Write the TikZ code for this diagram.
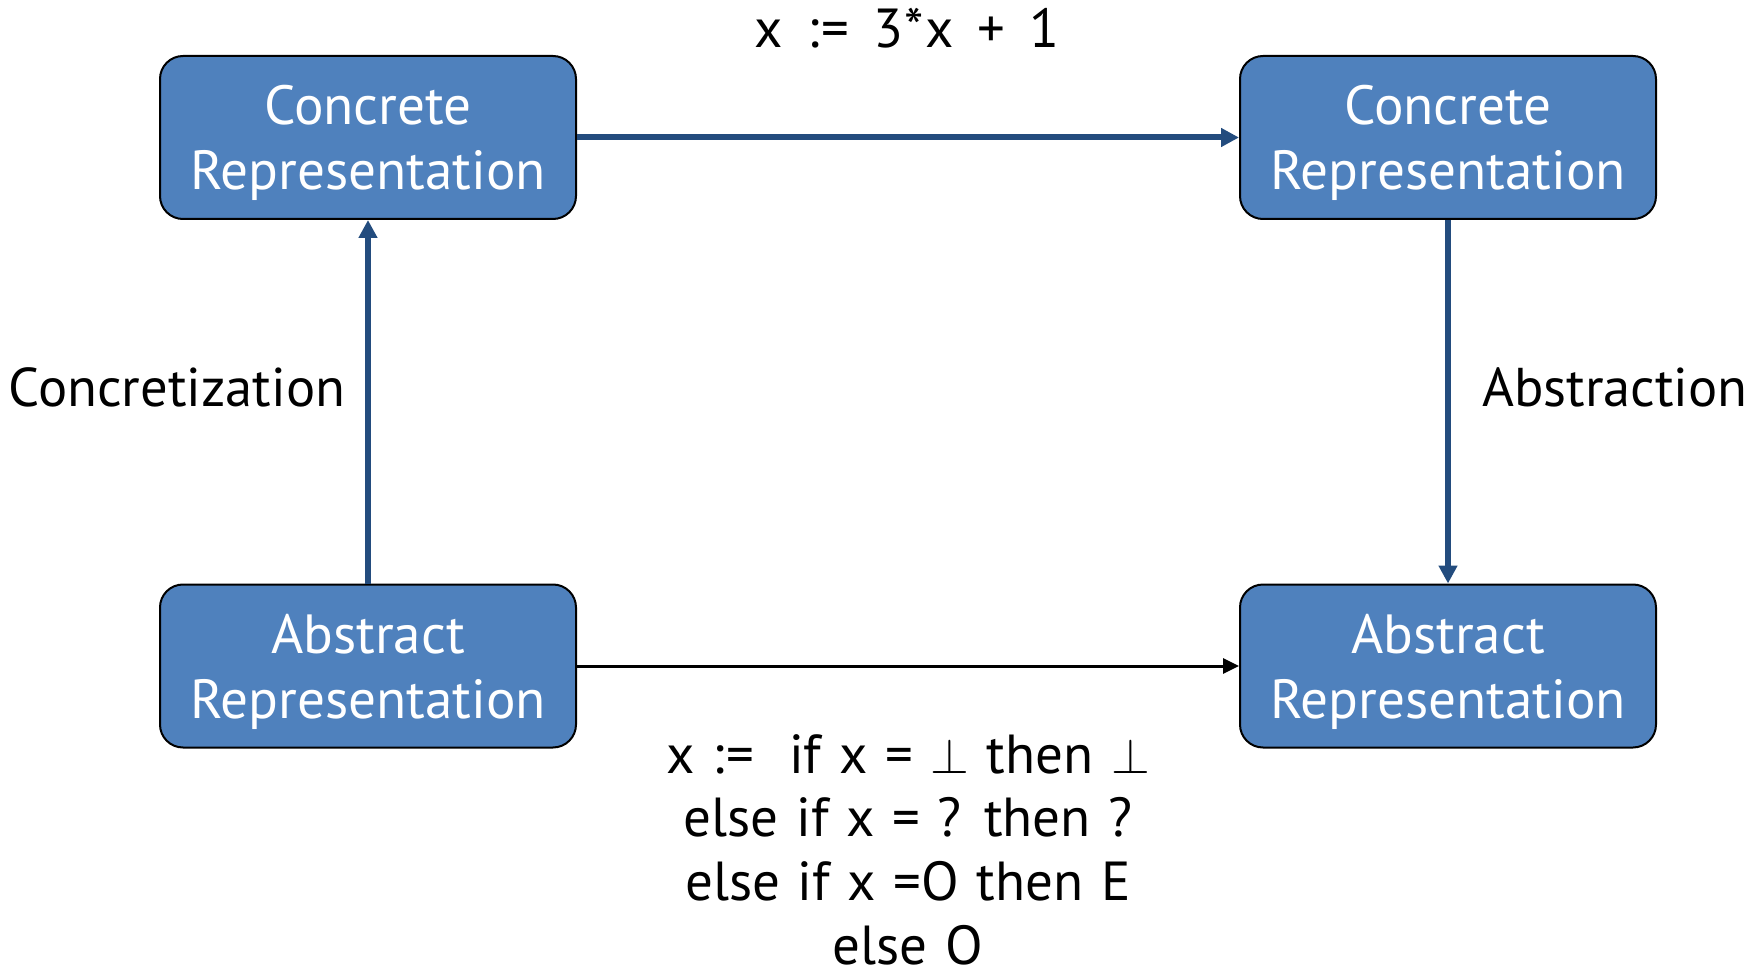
\documentclass[tikz,border=0pt]{standalone}
\usepackage{fontspec}
\setmainfont{PT Sans}
\newfontfamily\assignfont[LetterSpace=2.5,WordSpace=1.5]{PT Sans}
\newfontfamily\codefont[WordSpace=1.2]{PT Sans}
\usetikzlibrary{arrows.meta}
\definecolor{boxfill}{HTML}{4F81BD}
\definecolor{arrowblue}{HTML}{234C7E}
\tikzset{
  repbox/.style={draw=black, line width=1pt, fill=boxfill, rounded corners=11.5pt,
    minimum width=208pt, minimum height=81.5pt, inner sep=0pt, align=center,
    text depth=0pt, text=white, font=\fontsize{27.6pt}{32.5pt}\selectfont},
  bluearrow/.style={draw=arrowblue, line width=3pt,
    -{Triangle[length=9pt,width=9pt]}},
  blackarrow/.style={draw=black, line width=1.5pt,
    -{Triangle[length=8pt,width=7.5pt]}},
  sidelabel/.style={font=\fontsize{27.3pt}{30pt}\selectfont, anchor=base, inner sep=0pt},
  assignlabel/.style={font=\assignfont\fontsize{27.5pt}{28pt}\selectfont,
    inner sep=0pt, anchor=base},
  codelabel/.style={font=\codefont\fontsize{27.5pt}{31.8pt}\selectfont,
    align=center, inner sep=0pt, anchor=base}
}
\begin{document}
\begin{tikzpicture}[x=0.5pt, y=-0.5pt]
  \useasboundingbox (0,0) rectangle (1762,968);
  % the four representation boxes
  \node[repbox] (cl) at (368,137.5) {Concrete\\Representation};
  \node[repbox] (cr) at (1448,137.5) {Concrete\\Representation};
  \node[repbox] (al) at (368,666) {Abstract\\Representation};
  \node[repbox] (ar) at (1448,666) {Abstract\\Representation};
  % transitions
  \draw[bluearrow] (cl.east) -- (cr.west);
  \draw[bluearrow] (al.north) -- (cl.south);
  \draw[bluearrow] (cr.south) -- (ar.north);
  \draw[blackarrow] (al.east) -- (ar.west);
  % labels (the code block is anchored at the baseline of its last line)
  \node[assignlabel] (top) at (907,48) {x :\kern1pt= 3*x + 1};
  \node[sidelabel] (conc) at (177,407) {Concretization};
  \node[sidelabel] (abst) at (1615,407) {Abstraction};
  \node[codelabel] (code) at (908,964) {x :\kern1pt=~~if x = $\perp$ then $\perp$\\else if x = ? then ?\\else if x =O then E\\else O};
\end{tikzpicture}
\end{document}
